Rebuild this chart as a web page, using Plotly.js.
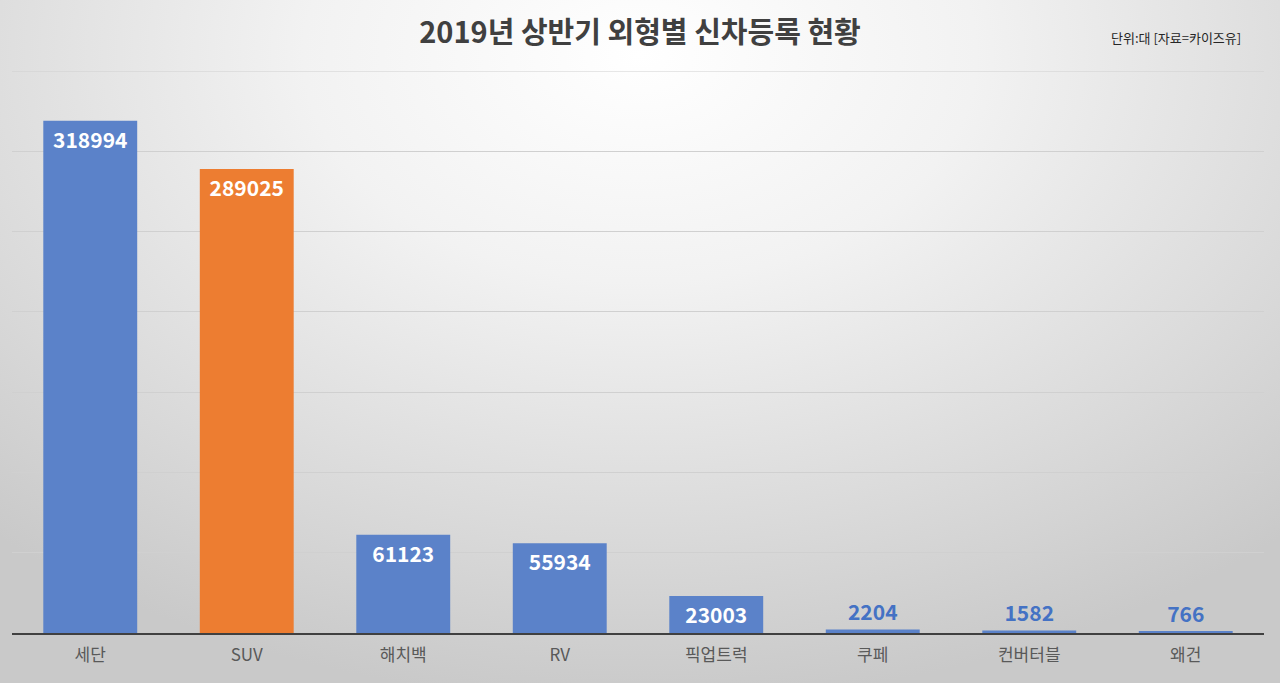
<!DOCTYPE html>
<html>
<head>
<meta charset="utf-8">
<script src="https://cdn.plot.ly/plotly-3.0.1.min.js"></script>
<style>
	html, body { margin: 0; padding: 0; }
	body {
		width: 1280px; height: 683px; overflow: hidden;
		background: radial-gradient(ellipse 75% 95% at 50% 8%, #ffffff 0%, #f2f2f2 35%, #d9d9d9 75%, #c9c9c9 100%);
	}
	#plot { width: 1280px; height: 683px; }
</style>
</head>
<body>
<div id="plot"></div>
<script>
	// Chart data
	const categories = ['세단', 'SUV', '해치백', 'RV', '픽업트럭', '쿠페', '컨버터블', '왜건'];
	const registrations = [318994, 289025, 61123, 55934, 23003, 2204, 1582, 766];
	const highlightIndex = 1; // SUV shown in orange

	const blue = '#5b82c9';
	const orange = '#ed7d31';

	const barColors = categories.map((c, i) => i === highlightIndex ? orange : blue);
	// Small bars get their label above the bar.
	const labelPositions = registrations.map(v => v > 10000 ? 'inside' : 'outside');

	const data = [{
		type: 'bar',
		x: categories,
		y: registrations,
		marker: { color: barColors, line: { width: 0 } },
		text: registrations.map(v => String(v)),
		textposition: labelPositions,
		insidetextanchor: 'end',
		constraintext: 'none',
		cliponaxis: false,
		insidetextfont: { family: 'Noto Sans CJK KR, Noto Sans', size: 21, color: '#ffffff', weight: 700 },
		outsidetextfont: { family: 'Noto Sans CJK KR, Noto Sans', size: 21, color: '#4472c4', weight: 700 },
		hoverinfo: 'x+y'
	}];

	const layout = {
		width: 1280,
		height: 683,
		paper_bgcolor: 'rgba(0,0,0,0)',
		plot_bgcolor: 'rgba(0,0,0,0)',
		margin: { t: 71, b: 50, l: 12, r: 16 },
		bargap: 0.4,
		showlegend: false,
		font: { family: 'Noto Sans CJK KR, Noto Sans', color: '#595959' },
		title: {
			text: '<b>2019년 상반기 외형별 신차등록 현황</b>',
			font: { size: 29, color: '#404040' },
			x: 0.5,
			xanchor: 'center',
			y: 0.952,
			yanchor: 'middle'
		},
		xaxis: {
			type: 'category',
			showgrid: false,
			showline: true,
			linecolor: '#404040',
			linewidth: 2,
			ticks: '',
			tickfont: { size: 17, color: '#595959' },
			ticklabelstandoff: 6
		},
		yaxis: {
			range: [0, 350000],
			dtick: 50000,
			showticklabels: false,
			showgrid: true,
			gridcolor: '#d0d0d0',
			gridwidth: 1,
			zeroline: false,
			showline: false
		},
		// Top gridline sits on the range edge, so draw it as a shape.
		shapes: [{
			type: 'line', layer: 'below',
			xref: 'paper', x0: 0, x1: 1,
			yref: 'y', y0: 350000, y1: 350000,
			line: { color: '#d0d0d0', width: 1 }
		}],
		annotations: [{
			text: '단위:대 [자료=카이즈유]',
			xref: 'paper', yref: 'paper',
			x: 0.983, y: 1.06,
			xanchor: 'right', yanchor: 'middle',
			showarrow: false,
			font: { size: 13, color: '#262626' }
		}]
	};

	Plotly.newPlot('plot', data, layout, { displayModeBar: false, responsive: false });
</script>
</body>
</html>
